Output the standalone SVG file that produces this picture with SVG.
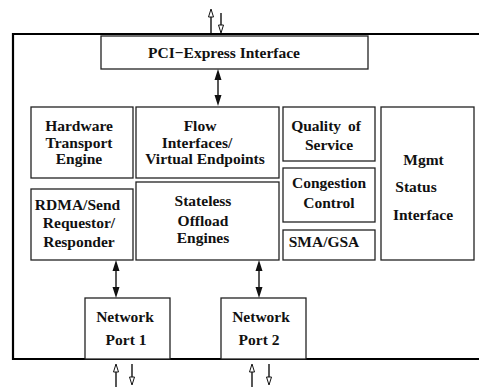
<svg xmlns="http://www.w3.org/2000/svg" width="479" height="387" viewBox="0 0 479 387">
<style>
.box{fill:#fff;stroke:#222;stroke-width:1.3}
.frame{fill:none;stroke:#000;stroke-width:2.2}
text{font-family:"Liberation Serif","Times New Roman",serif;font-weight:bold;font-size:15.5px;fill:#111;text-anchor:middle}
.c{stroke:#111;stroke-width:1.4;fill:none}
.h{fill:#fff;stroke:#111;stroke-width:1}
.f{fill:#111}
</style>
<rect width="479" height="387" fill="#fff"/>
<path class="frame" d="M490 34 H13 V359 H490"/>
<g id="pci"><rect class="box" x="101" y="36" width="267" height="33"/><text x="224" y="58">PCI−Express Interface</text></g>
<g id="hw"><rect class="box" x="31" y="107" width="102" height="71"/><text x="79" y="131">Hardware</text><text x="79" y="147.5">Transport</text><text x="79" y="164">Engine</text></g>
<g id="flow"><rect class="box" x="136" y="107" width="143" height="71"/><text x="200" y="131">Flow</text><text x="197" y="147.5">Interfaces/</text><text x="205" y="164">Virtual Endpoints</text></g>
<g id="qos"><rect class="box" x="283" y="107" width="92" height="54"/><text x="326" y="131" word-spacing="3">Quality of</text><text x="329" y="150">Service</text></g>
<g id="cong"><rect class="box" x="283" y="168" width="92" height="54"/><text x="329" y="188">Congestion</text><text x="329" y="207.5">Control</text></g>
<g id="sma"><rect class="box" x="283" y="230" width="92" height="30"/><text x="324" y="246.5">SMA/GSA</text></g>
<g id="mgmt"><rect class="box" x="381" y="107" width="93" height="153"/><text x="423.5" y="165">Mgmt</text><text x="416" y="192">Status</text><text x="423" y="220">Interface</text></g>
<g id="rdma"><rect class="box" x="31" y="189" width="102" height="71"/><text x="77.5" y="209.5">RDMA/Send</text><text x="79" y="228">Requestor/</text><text x="79" y="246.5">Responder</text></g>
<g id="stateless"><rect class="box" x="136" y="182" width="143" height="78"/><text x="203" y="206">Stateless</text><text x="203" y="226">Offload</text><text x="203" y="243">Engines</text></g>
<g id="port1"><rect class="box" x="85" y="298" width="85" height="61"/><text x="125" y="322">Network</text><text x="126" y="345">Port 1</text></g>
<g id="port2"><rect class="box" x="221" y="298" width="85" height="61"/><text x="261" y="322">Network</text><text x="259" y="345">Port 2</text></g>
<g id="connectors">
<line class="c" x1="218" y1="79" x2="218" y2="96"/>
<path class="f" d="M218 69 L214.5 80 L221.5 80 Z M218 106 L214.5 95 L221.5 95 Z"/>
<line class="c" x1="116" y1="270" x2="116" y2="288"/>
<path class="f" d="M116 260 L112.5 271 L119.5 271 Z M116 298 L112.5 287 L119.5 287 Z"/>
<line class="c" x1="259" y1="270" x2="259" y2="288"/>
<path class="f" d="M259 260 L255.5 271 L262.5 271 Z M259 298 L255.5 287 L262.5 287 Z"/>
<line class="c" x1="211" y1="33" x2="211" y2="17"/>
<path class="h" d="M211 9 L208.5 17 L213.5 17 Z"/>
<line class="c" x1="221" y1="13" x2="221" y2="25"/>
<path class="h" d="M221 33 L218.5 25 L223.5 25 Z"/>
<line class="c" x1="116" y1="387" x2="116" y2="372"/>
<path class="h" d="M116 364 L113.5 372 L118.5 372 Z"/>
<line class="c" x1="132" y1="364" x2="132" y2="377"/>
<path class="h" d="M132 385 L129.5 377 L134.5 377 Z"/>
<line class="c" x1="252" y1="387" x2="252" y2="372"/>
<path class="h" d="M252 364 L249.5 372 L254.5 372 Z"/>
<line class="c" x1="269" y1="364" x2="269" y2="377"/>
<path class="h" d="M269 385 L266.5 377 L271.5 377 Z"/>
</g>
</svg>
